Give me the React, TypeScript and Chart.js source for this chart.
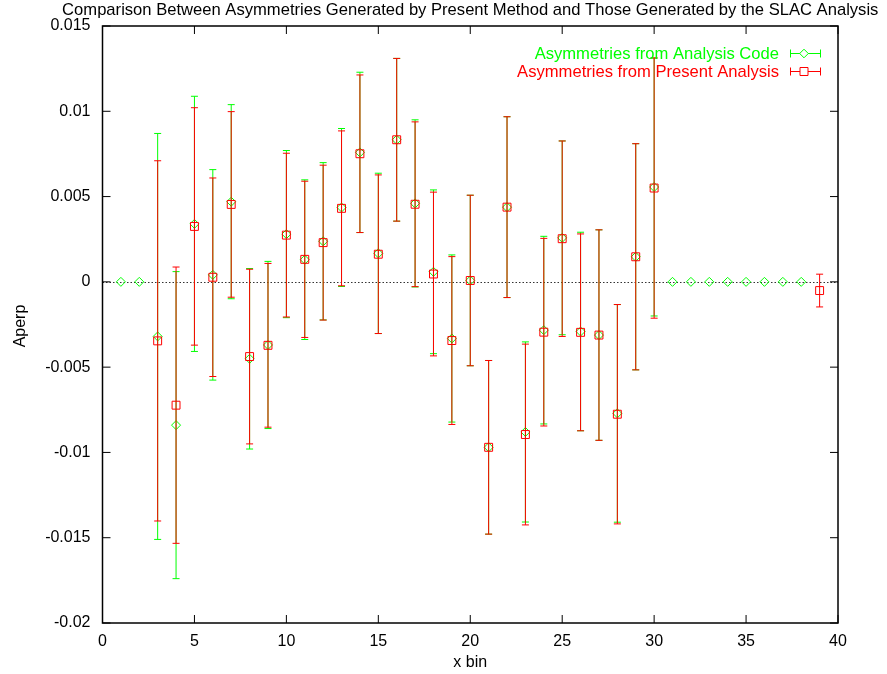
import React, { useEffect, useRef } from 'react';
import { Chart, registerables } from 'chart.js';

Chart.register(...registerables);

const TITLE = 'Comparison Between Asymmetries Generated by Present Method and Those Generated by the SLAC Analysis';
const X_LABEL = 'x bin';
const Y_LABEL = 'Aperp';
const LEGEND_CODE = 'Asymmetries from Analysis Code';
const LEGEND_PRESENT = 'Asymmetries from Present Analysis';

const xTicks = [0, 5, 10, 15, 20, 25, 30, 35, 40];
const xTickLabels = ['0', '5', '10', '15', '20', '25', '30', '35', '40'];
const yTicks = [-0.02, -0.015, -0.01, -0.005, 0, 0.005, 0.01, 0.015];
const yTickLabels = ['-0.02', '-0.015', '-0.01', '-0.005', '0', '0.005', '0.01', '0.015'];

// Asymmetries from Analysis Code (green)
const codeBins = [1, 2, 3, 4, 5, 6, 7, 8, 9, 10, 11, 12, 13, 14, 15, 16, 17, 18, 19, 20, 21, 22, 23, 24, 25, 26, 27, 28, 29, 30, 31, 32, 33, 34, 35, 36, 37, 38];
const codeY = [0, 0,
  -0.0032, -0.0084, 0.0034, 0.00041, 0.0047, -0.00451, -0.0037, 0.0028, 0.0013, 0.00238,
  0.00436, 0.00759, 0.00167, 0.00833, 0.0046, 0.00059, -0.00332, 0.00008, -0.0097, 0.00438,
  -0.0088, -0.00283, 0.00258, -0.00291, -0.00312, -0.00771, 0.00147, 0.00556,
  0, 0, 0, 0, 0, 0, 0, 0];
const codeErr = [0, 0,
  0.0119, 0.009, 0.00748, 0.00617, 0.00569, 0.00529, 0.0049, 0.0049, 0.00468, 0.00461,
  0.00463, 0.0047, 0.0047, 0.00477, 0.0049, 0.0048, 0.0049, 0.005, 0.00509, 0.0053,
  0.00528, 0.0055, 0.00568, 0.00582, 0.00617, 0.00638, 0.00663, 0.00756,
  0, 0, 0, 0, 0, 0, 0, 0];

// Asymmetries from Present Analysis (red)
const presentBins = [3, 4, 5, 6, 7, 8, 9, 10, 11, 12, 13, 14, 15, 16, 17, 18, 19, 20, 21, 22, 23, 24, 25, 26, 27, 28, 29, 30, 39];
const presentY = [
  -0.00346, -0.00723, 0.00325, 0.00027, 0.00454, -0.00438, -0.00372, 0.00274, 0.00132, 0.0023,
  0.00431, 0.00751, 0.00162, 0.00833, 0.00455, 0.00046, -0.00344, 0.00008, -0.0097, 0.00438,
  -0.00895, -0.00295, 0.00253, -0.00296, -0.00312, -0.00776, 0.00147, 0.0055, -0.00051];
const presentErr = [
  0.01056, 0.0081, 0.00696, 0.00582, 0.00544, 0.00512, 0.0048, 0.0048, 0.00458, 0.00454,
  0.00454, 0.00462, 0.00465, 0.00477, 0.00483, 0.0048, 0.00492, 0.005, 0.00509, 0.0053,
  0.0053, 0.0055, 0.00573, 0.00577, 0.00617, 0.00643, 0.00663, 0.00763, 0.00096];

const GREEN = '#00ff00';
const RED = '#ff0000';
const FONT = "'Liberation Sans', Arial, Helvetica, sans-serif";

function drawErrorBars(chart: any, bins: number[], ys: number[], errs: number[], color: string) {
  const ctx = chart.ctx;
  const xs = chart.scales.x;
  const ysc = chart.scales.y;
  ctx.save();
  ctx.strokeStyle = color;
  ctx.lineWidth = 1;
  bins.forEach((b, i) => {
    const e = errs[i];
    if (!e) return;
    const px = xs.getPixelForValue(b);
    const top = ysc.getPixelForValue(ys[i] + e);
    const bot = ysc.getPixelForValue(ys[i] - e);
    ctx.beginPath();
    ctx.moveTo(px, top);
    ctx.lineTo(px, bot);
    ctx.moveTo(px - 3.5, top);
    ctx.lineTo(px + 3.5, top);
    ctx.moveTo(px - 3.5, bot);
    ctx.lineTo(px + 3.5, bot);
    ctx.stroke();
  });
  ctx.restore();
}

const gnuplotPlugin = {
  id: 'gnuplotDecor',
  beforeDatasetsDraw(chart: any) {
    const ctx = chart.ctx;
    const a = chart.chartArea;
    const y0 = chart.scales.y.getPixelForValue(0);
    ctx.save();
    ctx.strokeStyle = '#333';
    ctx.lineWidth = 1;
    ctx.setLineDash([1.5, 2]);
    ctx.beginPath();
    ctx.moveTo(a.left, Math.round(y0) + 0.5);
    ctx.lineTo(a.right, Math.round(y0) + 0.5);
    ctx.stroke();
    ctx.restore();
  },
  beforeDatasetDraw(chart: any, args: any) {
    if (args.index === 0) drawErrorBars(chart, codeBins, codeY, codeErr, GREEN);
    else drawErrorBars(chart, presentBins, presentY, presentErr, RED);
  },
  afterDraw(chart: any) {
    const ctx = chart.ctx;
    const a = chart.chartArea;
    const xs = chart.scales.x;
    const ysc = chart.scales.y;
    ctx.save();
    // frame
    ctx.strokeStyle = '#000';
    ctx.lineWidth = 1.5;
    ctx.strokeRect(a.left, a.top, a.right - a.left, a.bottom - a.top);
    // inward ticks, mirrored
    ctx.lineWidth = 1;
    const tl = 8;
    ctx.beginPath();
    xTicks.forEach((v) => {
      const px = xs.getPixelForValue(v);
      ctx.moveTo(px, a.bottom);
      ctx.lineTo(px, a.bottom - tl);
      ctx.moveTo(px, a.top);
      ctx.lineTo(px, a.top + tl);
    });
    yTicks.forEach((v) => {
      const py = ysc.getPixelForValue(v);
      ctx.moveTo(a.left, py);
      ctx.lineTo(a.left + tl, py);
      ctx.moveTo(a.right, py);
      ctx.lineTo(a.right - tl, py);
    });
    ctx.stroke();

    // title
    ctx.fillStyle = '#000';
    ctx.font = `16.6px ${FONT}`;
    ctx.textAlign = 'center';
    ctx.textBaseline = 'alphabetic';
    ctx.fillText(TITLE, (a.left + a.right) / 2, 14.5);
    // x label
    ctx.font = `16px ${FONT}`;
    ctx.fillText(X_LABEL, (a.left + a.right) / 2, 667);
    // y label
    ctx.save();
    ctx.translate(25, 326);
    ctx.rotate(-Math.PI / 2);
    ctx.fillText(Y_LABEL, 0, 0);
    ctx.restore();

    // legend
    ctx.font = `16.6px ${FONT}`;
    const rows = [
      { text: LEGEND_CODE, color: GREEN, marker: 'diamond', base: 59, mid: 53.5 },
      { text: LEGEND_PRESENT, color: RED, marker: 'square', base: 77, mid: 71.5 },
    ];
    rows.forEach((r) => {
      ctx.fillStyle = r.color;
      ctx.textAlign = 'right';
      ctx.fillText(r.text, 779, r.base);
      ctx.strokeStyle = r.color;
      ctx.lineWidth = 1;
      const x1 = 790.5, x2 = 820.5, cx = 804;
      ctx.beginPath();
      ctx.moveTo(x1, r.mid);
      ctx.lineTo(x2, r.mid);
      ctx.moveTo(x1, r.mid - 4);
      ctx.lineTo(x1, r.mid + 4);
      ctx.moveTo(x2, r.mid - 4);
      ctx.lineTo(x2, r.mid + 4);
      ctx.stroke();
      ctx.beginPath();
      if (r.marker === 'diamond') {
        ctx.moveTo(cx, r.mid - 4.3);
        ctx.lineTo(cx + 4.3, r.mid);
        ctx.lineTo(cx, r.mid + 4.3);
        ctx.lineTo(cx - 4.3, r.mid);
        ctx.closePath();
        ctx.fillStyle = '#fff';
        ctx.fill();
      } else {
        ctx.rect(cx - 4, r.mid - 4, 8, 8);
        ctx.fillStyle = '#fff';
        ctx.fill();
      }
      ctx.stroke();
    });
    ctx.restore();
  },
};

export default function App() {
  const canvasRef = useRef<HTMLCanvasElement | null>(null);

  useEffect(() => {
    const canvas = canvasRef.current;
    if (!canvas) return;
    const chart = new Chart(canvas, {
      type: 'scatter',
      data: {
        datasets: [
          {
            label: LEGEND_CODE,
            data: codeBins.map((b, i) => ({ x: b, y: codeY[i] })),
            pointStyle: 'rectRot',
            pointRadius: 4.5,
            borderColor: GREEN,
            backgroundColor: 'rgba(0,0,0,0)',
            borderWidth: 1,
            showLine: false,
            order: 2,
          },
          {
            label: LEGEND_PRESENT,
            data: presentBins.map((b, i) => ({ x: b, y: presentY[i] })),
            pointStyle: 'rect',
            pointRadius: 5.6,
            borderColor: RED,
            backgroundColor: 'rgba(0,0,0,0)',
            borderWidth: 1,
            showLine: false,
            order: 1,
          },
        ],
      },
      options: {
        responsive: false,
        animation: false,
        devicePixelRatio: 1,
        layout: { padding: { left: 0, top: 26, right: 49, bottom: 0 } },
        plugins: {
          legend: { display: false },
          title: { display: false },
          tooltip: { enabled: false },
        },
        events: [],
        scales: {
          x: {
            type: 'linear',
            min: 0,
            max: 40,
            grid: { display: false, drawTicks: false },
            border: { display: false },
            afterFit: (s: any) => { s.height = 51; },
            afterBuildTicks: (s: any) => { s.ticks = xTicks.map((v) => ({ value: v })); },
            ticks: {
              padding: 9,
              color: '#000',
              font: { family: FONT, size: 16 },
              maxRotation: 0,
              callback: (v: any) => { const i = xTicks.indexOf(Number(v)); return i >= 0 ? xTickLabels[i] : ''; },
            },
          },
          y: {
            type: 'linear',
            min: -0.02,
            max: 0.015,
            grid: { display: false, drawTicks: false },
            border: { display: false },
            afterFit: (s: any) => { s.width = 102.5; },
            afterBuildTicks: (s: any) => { s.ticks = yTicks.map((v) => ({ value: v })); },
            ticks: {
              padding: 12,
              color: '#000',
              font: { family: FONT, size: 16 },
              callback: (v: any) => {
                const i = yTicks.findIndex((t) => Math.abs(t - Number(v)) < 1e-9);
                return i >= 0 ? yTickLabels[i] : '';
              },
            },
          },
        },
      },
      plugins: [gnuplotPlugin],
    });
    return () => chart.destroy();
  }, []);

  return (
    <div style={{ position: 'absolute', left: 0, top: 0, width: 887, height: 674, background: '#fff' }}>
      <canvas ref={canvasRef} width={887} height={674} style={{ display: 'block' }} />
    </div>
  );
}
